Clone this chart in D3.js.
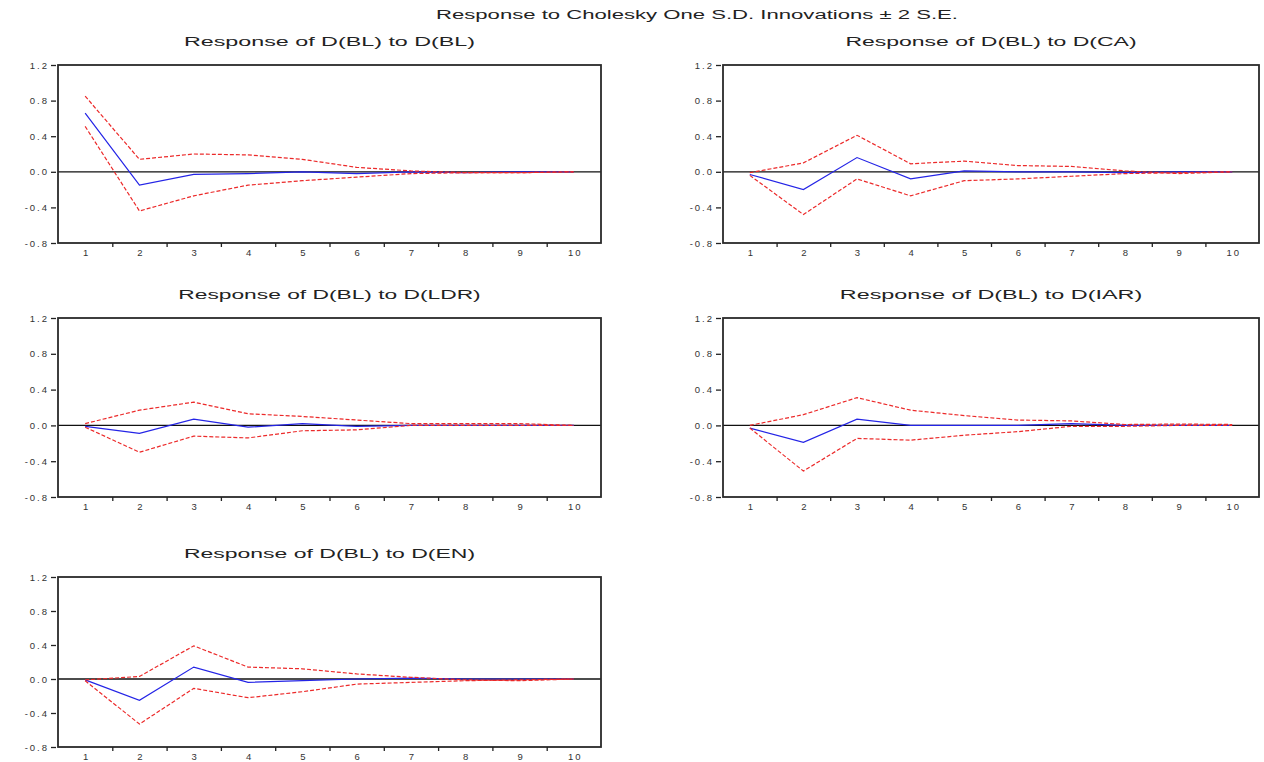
<!DOCTYPE html>
<html lang="en">
<head>
<meta charset="UTF-8"/>
<title>Response to Cholesky One S.D. Innovations</title>
<script src="https://d3js.org/d3.v7.min.js"></script>
<style>
    body { margin: 0; background-color: #fff; }
    svg text { font-family: "Liberation Sans", Arial, sans-serif; fill: #222; }
    .box { fill: none; stroke: #2a2a2a; stroke-width: 1.8; }
    .zero { stroke: #111; stroke-width: 1.3; }
    .resp { fill: none; stroke: #2424e6; stroke-width: 1.2; }
    .band { fill: none; stroke: #ec2a2a; stroke-width: 1.2; stroke-dasharray: 4,2; }
    .axis path { display: none; }
    .axis line { stroke: #222; stroke-width: 1.3; }
    .axis text { font-size: 9.5px; letter-spacing: 2px; fill: #333; }
</style>
</head>
<body>
<div id="chart"></div>
<script>
var periods = [1, 2, 3, 4, 5, 6, 7, 8, 9, 10];
var yTicks = [1.2, 0.8, 0.4, 0.0, -0.4, -0.8];
var mainTitle = "Response to Cholesky One S.D. Innovations \u00b1 2 S.E.";
var titles = ["Response of D(BL) to D(BL)", "Response of D(BL) to D(CA)",
              "Response of D(BL) to D(LDR)", "Response of D(BL) to D(IAR)",
              "Response of D(BL) to D(EN)"];

// impulse response (blue) and +/- 2 S.E. bands (red dashed)
var respBL  = [0.66, -0.15, -0.03, -0.02, 0.0, -0.02, 0.0, -0.01, 0.0, 0.0];
var upBL    = [0.85, 0.14, 0.20, 0.19, 0.14, 0.05, 0.01, -0.01, -0.01, 0.0];
var loBL    = [0.51, -0.44, -0.27, -0.15, -0.10, -0.06, -0.02, -0.01, -0.01, 0.0];

var respCA  = [-0.03, -0.20, 0.16, -0.08, 0.01, 0.0, 0.0, -0.01, 0.0, 0.0];
var upCA    = [-0.01, 0.10, 0.41, 0.09, 0.12, 0.07, 0.06, 0.01, -0.02, 0.0];
var loCA    = [-0.04, -0.48, -0.08, -0.27, -0.10, -0.08, -0.05, -0.02, -0.01, 0.0];

var respLDR = [-0.01, -0.09, 0.07, -0.02, 0.02, -0.01, 0.0, 0.0, 0.0, 0.0];
var upLDR   = [0.02, 0.17, 0.26, 0.13, 0.10, 0.06, 0.02, 0.02, 0.02, 0.0];
var loLDR   = [-0.02, -0.30, -0.12, -0.14, -0.06, -0.05, 0.0, 0.0, 0.0, 0.0];

var respIAR = [-0.03, -0.19, 0.07, 0.0, 0.0, 0.0, 0.02, 0.0, 0.0, 0.0];
var upIAR   = [0.0, 0.12, 0.31, 0.17, 0.11, 0.06, 0.05, 0.01, 0.015, 0.01];
var loIAR   = [-0.03, -0.51, -0.145, -0.165, -0.11, -0.07, -0.01, -0.01, 0.0, 0.0];

var respEN  = [-0.01, -0.25, 0.14, -0.04, -0.02, 0.0, 0.01, 0.0, 0.0, 0.0];
var upEN    = [-0.01, 0.03, 0.39, 0.14, 0.12, 0.06, 0.02, -0.01, -0.02, 0.0];
var loEN    = [-0.02, -0.53, -0.11, -0.22, -0.15, -0.06, -0.04, -0.02, -0.01, 0.0];

var w = 1264, h = 762;

// plot boxes for the five panels
var panels = [
    {title: titles[0], resp: respBL,  up: upBL,  lo: loBL,  x0: 58,  x1: 601,  y0: 65,  y1: 243},
    {title: titles[1], resp: respCA,  up: upCA,  lo: loCA,  x0: 723, x1: 1259, y0: 65,  y1: 243},
    {title: titles[2], resp: respLDR, up: upLDR, lo: loLDR, x0: 58,  x1: 601,  y0: 318, y1: 497},
    {title: titles[3], resp: respIAR, up: upIAR, lo: loIAR, x0: 723, x1: 1259, y0: 318, y1: 497},
    {title: titles[4], resp: respEN,  up: upEN,  lo: loEN,  x0: 58,  x1: 601,  y0: 577, y1: 747}
];

var svg = d3.select("#chart")
            .append("svg")
            .attr("width", w)
            .attr("height", h);

svg.append("text")
    .attr("x", 697)
    .attr("y", 19)
    .attr("text-anchor", "middle")
    .attr("font-size", 12)
    .attr("textLength", 522)
    .attr("lengthAdjust", "spacingAndGlyphs")
    .text(mainTitle);

panels.forEach(function(p){
    var xScale = d3.scaleLinear()
                   .domain([0.5, 10.5])
                   .range([p.x0, p.x1]);
    var yScale = d3.scaleLinear()
                   .domain([-0.8, 1.2])
                   .range([p.y1, p.y0]);

    var g = svg.append("g");

    g.append("text")
        .attr("x", (p.x0 + p.x1) / 2)
        .attr("y", p.y0 - 19)
        .attr("text-anchor", "middle")
        .attr("font-size", 12)
        .attr("textLength", p.title.length * 11.2)
        .attr("lengthAdjust", "spacingAndGlyphs")
        .text(p.title);

    // zero line
    g.append("line")
        .attr("class", "zero")
        .attr("x1", p.x0).attr("x2", p.x1)
        .attr("y1", yScale(0)).attr("y2", yScale(0));

    var line = d3.line()
                 .x(function(d, i){ return xScale(periods[i]); })
                 .y(function(d){ return yScale(d); });

    g.append("path").datum(p.resp).attr("class", "resp").attr("d", line);
    g.append("path").datum(p.up).attr("class", "band").attr("d", line);
    g.append("path").datum(p.lo).attr("class", "band").attr("d", line);

    // box
    g.append("rect")
        .attr("class", "box")
        .attr("x", p.x0).attr("y", p.y0)
        .attr("width", p.x1 - p.x0).attr("height", p.y1 - p.y0);

    var yAxis = d3.axisLeft(yScale)
                  .tickValues(yTicks)
                  .tickSize(5)
                  .tickPadding(2)
                  .tickFormat(function(d){ return d.toFixed(1); });
    g.append("g")
        .attr("class", "axis")
        .attr("transform", "translate(" + (p.x0 - 2) + ",0)")
        .call(yAxis);

    // labels centred on each period, tick marks between periods
    var xLabels = d3.axisBottom(xScale)
                    .tickValues(periods)
                    .tickSize(0)
                    .tickPadding(6)
                    .tickFormat(d3.format("d"));
    g.append("g")
        .attr("class", "axis")
        .attr("transform", "translate(1," + p.y1 + ")")
        .call(xLabels);

    var xMarks = d3.axisBottom(xScale)
                   .tickValues(periods.slice(0, -1).map(function(d){ return d + 0.5; }))
                   .tickSize(4)
                   .tickFormat("");
    g.append("g")
        .attr("class", "axis")
        .attr("transform", "translate(0," + p.y1 + ")")
        .call(xMarks);
});
</script>
</body>
</html>
